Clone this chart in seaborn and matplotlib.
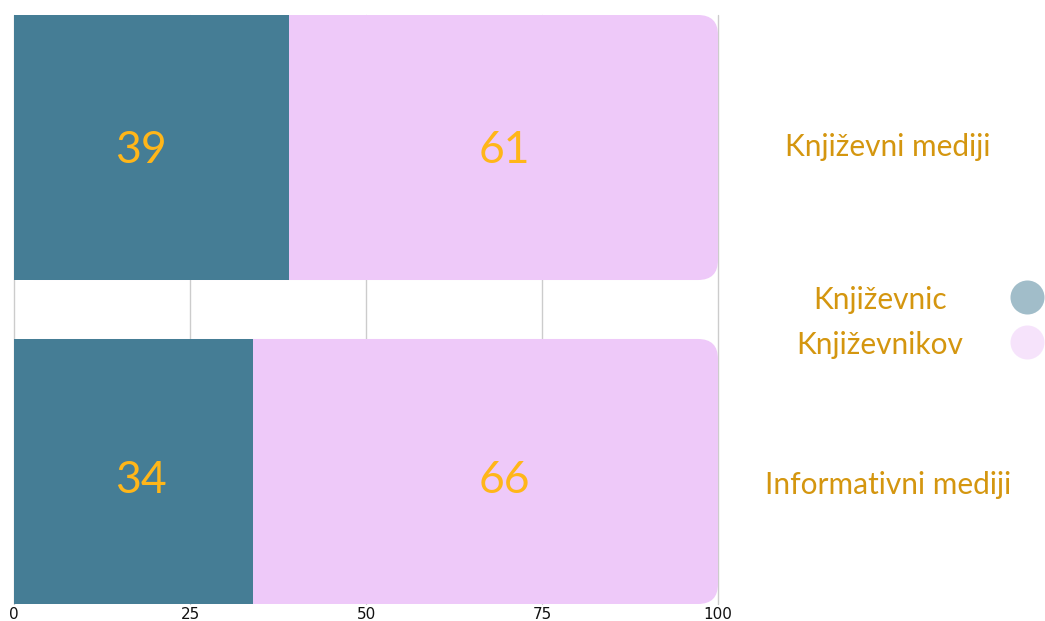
import numpy as np
import pandas as pd
import matplotlib
matplotlib.use("Agg")
import matplotlib.pyplot as plt
import matplotlib.transforms as mtransforms
import seaborn as sns
from matplotlib.patches import FancyBboxPatch
from matplotlib.lines import Line2D

# -------------------------
# === Data ================
# -------------------------
categories = ["Književni mediji", "Informativni mediji"]
women = [39, 34]          # Književnic
men = [61, 66]            # Književnikov
series_names = ["Književnic", "Književnikov"]
x_ticks = [0, 25, 50, 75, 100]

# -------------------------
# === Style ===============
# -------------------------
TEAL = "#457d95"
PINK = "#eec9f9"
VALUE_COLOR = "#ffb619"
LABEL_COLOR = "#d4960f"
GRID_COLOR = "#cccccc"

W, H = 1045, 621
BAR_H = 0.818
AX_L, AX_R, AX_T, AX_B = 14, 718, 15, 604   # plot area in pixels
VALUE_X = [18.0, 69.6]      # where the in-bar numbers sit (axis units)
VALUE_SHIFT_PX = [0, 6.5]   # the lower row's numbers sit a bit lower
CAT_SHIFT_PX = [0, 14]      # and its category label even more

sns.set_theme(style="white")
plt.rcParams["font.family"] = ["Lato", "DejaVu Sans"]

df = pd.DataFrame({"category": categories, "women": women, "men": men})
df["total"] = df["women"] + df["men"]

fig = plt.figure(figsize=(W / 100, H / 100), dpi=100)
ax = fig.add_axes([AX_L / W, (H - AX_B) / H, (AX_R - AX_L) / W, (AX_B - AX_T) / H])

# pink (full) bars, then teal on top
sns.barplot(data=df, x="total", y="category", orient="h", color=PINK,
            width=BAR_H, saturation=1, linewidth=0, ax=ax, zorder=2)
pink_patches = list(ax.patches)
sns.barplot(data=df, x="women", y="category", orient="h", color=TEAL,
            width=BAR_H, saturation=1, linewidth=0, ax=ax, zorder=3)

ax.set_xlim(0, 100)
ax.set_ylim(len(categories) - 1 + BAR_H / 2, -BAR_H / 2)

# round the right ends of the pink bars
x_per_px = 100 / (AX_R - AX_L)
y_per_px = (len(categories) - 1 + BAR_H) / (AX_B - AX_T)
radius = 20 * x_per_px
for p in pink_patches:
    x0, y0 = p.get_x(), p.get_y()
    w, h = p.get_width(), p.get_height()
    p.remove()
    ax.add_patch(FancyBboxPatch((x0, y0), w, h,
                                boxstyle=f"round,pad=0,rounding_size={radius}",
                                mutation_aspect=y_per_px / x_per_px,
                                facecolor=PINK, edgecolor="none", zorder=2))

# grid
for t in x_ticks:
    ax.axvline(t, color=GRID_COLOR, lw=1, zorder=1, clip_on=False)

ax.set_xticks(x_ticks)
ax.set_xticklabels([str(t) for t in x_ticks],
                   family=["Liberation Sans Narrow", "DejaVu Sans"], fontsize=11,
                   color="#111111")
ax.tick_params(axis="x", length=0, pad=2.5)
ax.set_yticks([])
ax.set_xlabel("")
ax.set_ylabel("")
for s in ax.spines.values():
    s.set_visible(False)

# value labels (baseline placed below bar centre)
for i, (wv, mv) in enumerate(zip(women, men)):
    yb = i + (15.5 + VALUE_SHIFT_PX[i]) * y_per_px
    ax.text(VALUE_X[0], yb, str(wv), ha="center", va="baseline",
            fontsize=32, color=VALUE_COLOR, zorder=5)
    ax.text(VALUE_X[1], yb, str(mv), ha="center", va="baseline",
            fontsize=32, color=VALUE_COLOR, zorder=5)

# category labels on the right
trans = mtransforms.blended_transform_factory(fig.transFigure, ax.transData)
for i, c in enumerate(categories):
    yb = i + (8.5 + CAT_SHIFT_PX[i]) * y_per_px
    ax.text(888 / W, yb, c, transform=trans, ha="center", va="baseline",
            fontsize=21.5, color=LABEL_COLOR, clip_on=False)

# legend
leg_y = [297, 342]
leg_colors = [TEAL, PINK]
for name, yy, col in zip(series_names, leg_y, leg_colors):
    fig.text(880 / W, 1 - (yy + 12) / H, name, ha="center", va="baseline",
             fontsize=21.5, color=LABEL_COLOR)
    fig.add_artist(Line2D([1027 / W], [1 - yy / H], transform=fig.transFigure,
                          marker="o", markersize=24.5, markerfacecolor=col,
                          markeredgecolor="none", alpha=0.5, linestyle="none"))

fig.savefig("out.png", dpi=100)
